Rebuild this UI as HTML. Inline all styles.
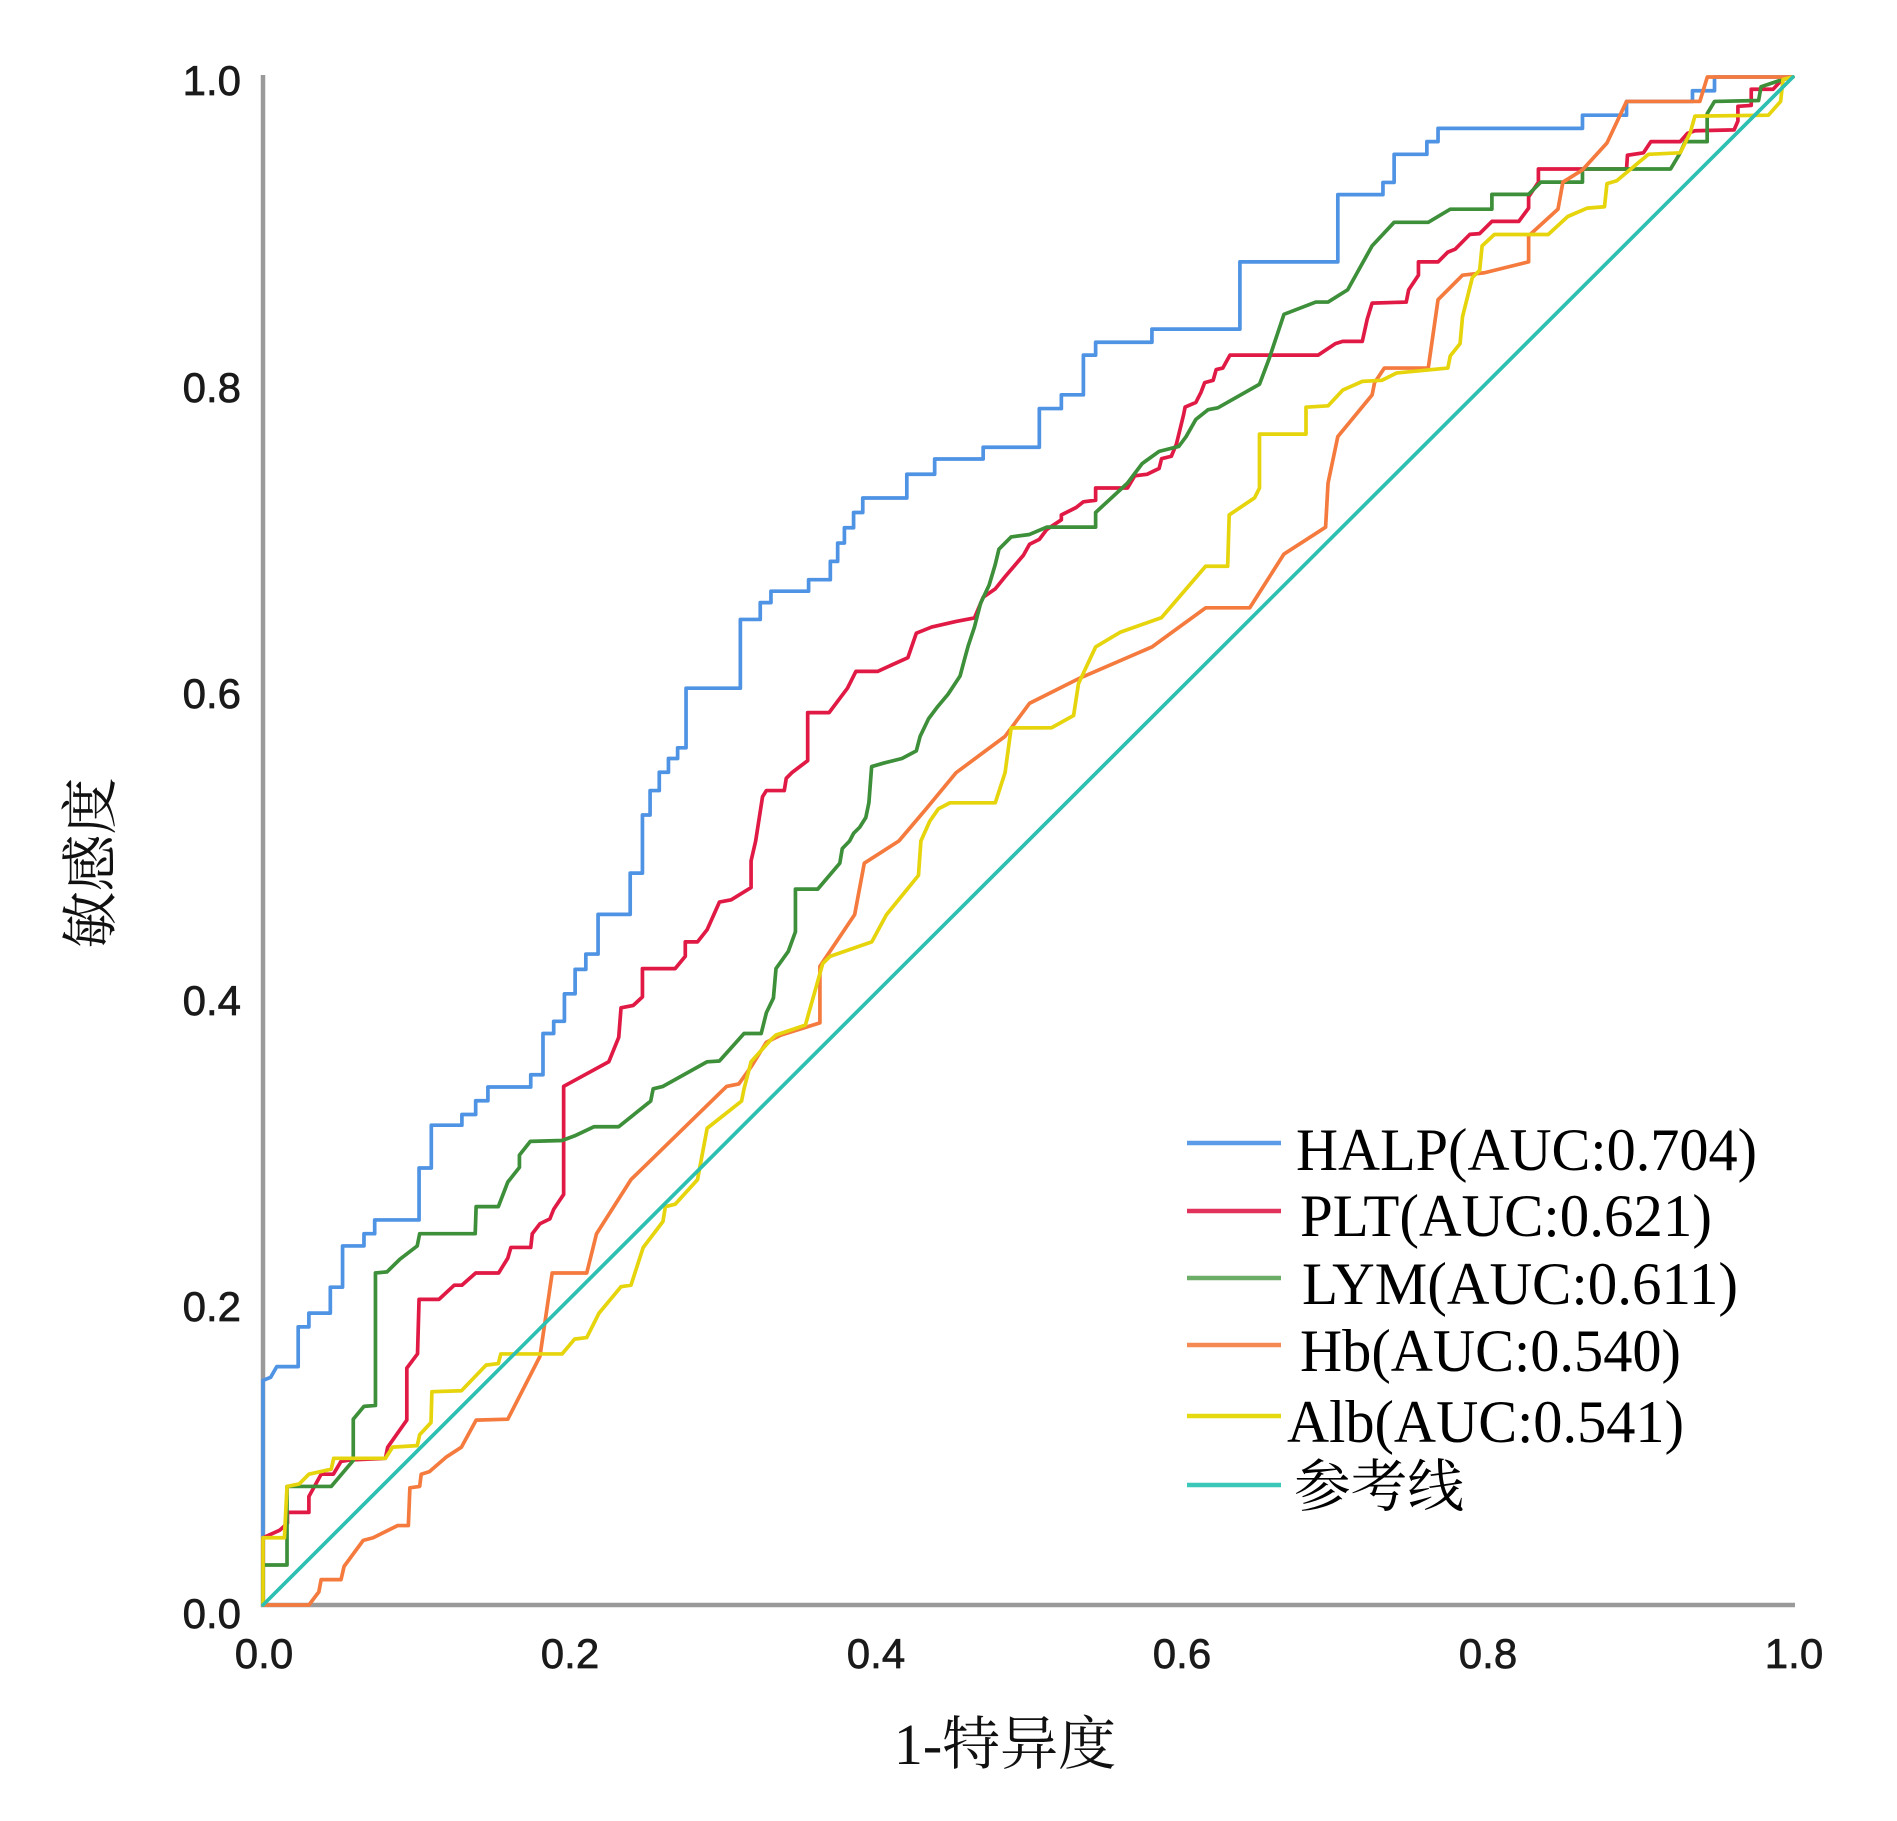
<!DOCTYPE html>
<html>
<head>
<meta charset="utf-8">
<style>
html,body{margin:0;padding:0;background:#fff;}
svg{display:block;}
</style>
</head>
<body>
<svg width="1897" height="1821" viewBox="0 0 1897 1821" xmlns="http://www.w3.org/2000/svg">
<rect width="1897" height="1821" fill="#ffffff"/>

<!-- axes -->
<line x1="263" y1="75" x2="263" y2="1607" stroke="#9a9a9a" stroke-width="4.5"/>
<line x1="261" y1="1605" x2="1795" y2="1605" stroke="#9a9a9a" stroke-width="4.5"/>

<!-- y tick labels -->
<g font-family="'Liberation Sans', sans-serif" font-size="42" fill="#1a1a1a" stroke="#1a1a1a" stroke-width="0.7" text-anchor="end">
<text x="241" y="95">1.0</text>
<text x="241" y="402">0.8</text>
<text x="241" y="708">0.6</text>
<text x="241" y="1015">0.4</text>
<text x="241" y="1321">0.2</text>
<text x="241" y="1628">0.0</text>
</g>
<!-- x tick labels -->
<g font-family="'Liberation Sans', sans-serif" font-size="42" fill="#1a1a1a" stroke="#1a1a1a" stroke-width="0.7" text-anchor="middle">
<text x="264" y="1668">0.0</text>
<text x="570" y="1668">0.2</text>
<text x="876" y="1668">0.4</text>
<text x="1182" y="1668">0.6</text>
<text x="1488" y="1668">0.8</text>
<text x="1794" y="1668">1.0</text>
</g>

<!-- axis titles -->
<text x="0" y="0" transform="translate(86,863) rotate(-90)" font-family="'Noto Serif CJK SC', serif" font-size="57" fill="#111" text-anchor="middle" dominant-baseline="central">敏感度</text>
<text x="1005" y="1764" font-family="'Liberation Serif', 'Noto Serif CJK SC', serif" font-size="58" fill="#111" text-anchor="middle">1-特异度</text>

<!-- curves -->
<g transform="translate(263,1605) scale(1.53,-1.528)" fill="none" stroke-width="3.7" stroke-linejoin="round" stroke-linecap="round">
<polyline vector-effect="non-scaling-stroke" stroke="#4f93e4" points="0,0 0,147 5,149 9,156 23,156 23,182 30,182 30,191 44,191 44,208 52,208 52,235 66,235 66,243 73,243 73,252 102,252 102,286 110,286 110,314 130,314 130,321 139,321 139,330 147,330 147,339 175,339 175,347 183,347 183,374 190,374 190,382 197,382 197,400 204,400 204,416 211,416 211,426 219,426 219,452 240,452 240,479 248,479 248,517 253,517 253,533 259,533 259,545 265,545 265,554 271,554 271,561 276.5,561 276.5,600 312,600 312,645 325,645 325,656 332,656 332,663.5 356.6,663.5 356.6,671 370.8,671 370.8,683 375.6,683 375.6,695 380,695 380,705 386,705 386,715 392,715 392,724.5 420.8,724.5 420.8,740 439,740 439,750 470.7,750 470.7,757.7 507.4,757.7 507.4,783 521.8,783 521.8,792 536.2,792 536.2,818 544.2,818 544.2,826.4 581,826.4 581,835 638.5,835 638.5,879 702.5,879 702.5,923 732,923 732,931 739.3,931 739.3,949.4 760.7,949.4 760.7,957.7 768,957.7 768,966.4 862.4,966.4 862.4,975 891.2,975 891.2,984 934.3,984 934.3,991 948.7,991 948.7,1000 1000,1000"/>
<polyline vector-effect="non-scaling-stroke" stroke="#e01a44" points="0,0 0,44 11,49 16,53.5 16,60.6 30,60.6 30,71 38,85.6 46,85.6 51,94 57.4,95 80,96 81.5,103.3 94,121 94,155 101,164.4 102,200 115,200 125,209.3 130,209.3 139,217.3 154,217.3 160,227 162,234 175,234 176,243 181,249.5 187.5,252.7 190,259 196.5,268.7 196.5,339.4 203.6,343.3 226,355.5 232.5,371.5 234,390.8 242,392.4 248,398 248,416.5 269.4,416.5 276,424.5 276,434 284,434 290.3,442 298.3,460 306,461.5 319,469.5 319,487 322,500 326.5,529 329,533 340.7,533 342,541 346,545 356,552.6 356,584 370,584 382,600 387.5,611 401.7,611 421.5,620 427,636 437,640 453,643.7 465,646 470.7,659.5 478.6,665 485,673 497,687 501,694.2 507.4,697.4 512.2,703.8 521.8,710.2 521.8,713.4 531.4,718.2 536.2,722 544.2,723 544.2,731 565,731 569.8,739 577.8,740 585.7,743.8 587.3,750.2 593.7,751.8 597,759.8 601.7,779 602.7,784 609.7,787 613,793.5 615.5,800 621,801.5 623,808.5 627.3,809.5 632,818 689.7,818 700.9,825.5 705.7,827 718.5,827 721.7,841.5 724.9,852 747.2,852.7 748.8,860.7 755.2,870.3 755.2,879 768,879 774.4,885.4 779.2,887.3 788.8,897 795.2,897.5 803.2,905.5 820.8,905.5 827.2,914.2 827.2,921.6 833.6,931.2 833.6,939.8 891.2,939.8 891.8,948.8 902.3,950.4 907.1,957.7 926.3,957.7 931.1,963.2 936,964.8 961.5,965.4 964,971.2 964,980.8 972.7,981.4 972.7,992 987,992 993.5,999 1000,1000"/>
<polyline vector-effect="non-scaling-stroke" stroke="#3d8f3a" points="0,0 0,26.2 15.7,26.2 15.7,77.6 44.6,77.6 59,94.6 59,121.6 66,130 73.5,130.6 73.5,217.3 81,218 89.5,226.3 100.8,235 102.4,243 138.7,243 139.3,260.7 153.8,260.7 160,276.8 167.6,286.4 167.6,294.4 174.7,303.4 195.5,304 203.6,307 216.4,313 232.5,313 253.4,329.8 255,337.8 261.4,339.4 290.3,355.5 298.3,356 314.4,374 325.6,374 329,387.6 333.6,397.2 335.3,416.5 343.3,427.7 348,440.6 348,468.5 362.6,468.5 377,485.5 378.6,495 383.4,500 386,505 390,509 394,515.4 396,525 397.8,548.7 405.7,551 417.6,554 427,559 429.5,568.5 435,580 441,588 447.7,596 455.6,608 458.8,620 461,628 465,640 469,655.6 474.6,667.5 478.6,681 481,691 489,699 501,700.6 512.2,705.4 544.2,705.4 544.2,715 565,734.2 574.6,747 585.7,755 598.5,758.2 603.3,764.6 609.7,775.9 617.7,782.3 624.1,783.5 651.3,798.9 657.7,815.9 667.3,844.7 688.1,852.7 696.1,852.7 708.9,860.7 724.9,889.5 739.3,904.9 761.6,904.9 776,913.5 803.2,913.5 803.2,923.2 827.2,923.2 835.2,931.2 862.4,931.2 862.4,939.8 920,939.8 926.3,950.4 929.5,957.7 943.9,957.7 943.9,976 948.7,984 977.5,984.6 979.1,993.6 990.3,997.4 1000,1000"/>
<polyline vector-effect="non-scaling-stroke" stroke="#f47a3e" points="0,0 30,0 36.5,8.6 38,16.6 51,16.6 53,25.3 65.5,42.3 72,44 88,52 95,52 96,76.7 102.4,77.6 103.4,85.6 108.8,87.3 120,97 129.7,103.3 139.3,121 160,121.6 181,162.7 189,217.3 211.6,217.3 218,243 240.5,278.4 303,339.4 311,341 319,352.2 329,368.3 338.5,373 364,381 364,418 386.7,451.8 393,485.5 415.6,500 433.4,521 453,544.7 469,556.6 485,568.5 501,590.1 533,606.2 581,627 616.1,652.6 644.9,652.6 667.3,687.8 694.5,705.4 696.1,734.2 702.5,764.7 724.9,791.9 726.5,799.9 732.9,809.5 761.6,809.5 768,854.3 784,870.3 798.4,871.9 827.2,879 827.2,896 846.4,913.5 849.6,931.2 862.4,939.2 878.4,956.8 891.2,984 939.1,984 944,1000 1000,1000"/>
<polyline vector-effect="non-scaling-stroke" stroke="#e6d40c" points="0,0 0,44 14,44 15.7,77.6 23.7,79.2 30,85.6 44.6,88.9 46.2,96 80,96 84.7,103.3 100.8,104.3 102.4,111.4 109.8,119.4 110.4,139.6 129.7,140.2 145.8,157 153.8,158 155.4,164.3 195.5,164.3 203.6,174 211.6,175 219.6,191 234,208.3 240.5,209.3 248.5,234 261.4,251 263,260.7 269.4,262.3 284,278.4 290.3,312 312.8,329.8 314.4,337.8 319,355.5 332,370 335.3,373 354.5,379.5 365.8,419.7 370.6,424.5 397.9,434 407.5,451.8 428.4,477.5 430,500 435.8,513 441.4,521 449,525 478.6,525 485,544.7 489,574 515.4,574.1 529.8,582.1 533,603 544.2,627 560.2,636.6 587.3,646.2 616.1,679.8 630.5,679.8 631.5,713.4 648.1,724.6 651.3,731 651.3,766.3 681.7,766.3 681.7,783.9 696.1,784.8 705.7,795.1 718.5,800.8 731.3,801.5 740.9,806.3 774.4,809.5 776,817.5 782.4,825.5 784,843.1 790.4,868.7 795.2,873.5 796.8,889.5 804.8,896.9 840,896.9 852.8,908.7 865.6,914.2 876.8,915.1 878.4,930.2 884.8,932.1 905.5,949.4 926.3,950.4 932.7,963.2 935.9,974.4 983.9,975 991.9,984 993.5,998.4 1000,1000"/>
<line vector-effect="non-scaling-stroke" x1="0" y1="0" x2="1000" y2="1000" stroke="#2dbfb1"/>
</g>

<!-- legend -->
<g stroke-width="4.5">
<line x1="1187" y1="1143" x2="1281" y2="1143" stroke="#5b9be8"/>
<line x1="1187" y1="1211" x2="1281" y2="1211" stroke="#e0325a"/>
<line x1="1187" y1="1278" x2="1281" y2="1278" stroke="#6cad68"/>
<line x1="1187" y1="1345" x2="1281" y2="1345" stroke="#f58a55"/>
<line x1="1187" y1="1416" x2="1281" y2="1416" stroke="#e5d90f"/>
<line x1="1187" y1="1485" x2="1281" y2="1485" stroke="#3cc8b8"/>
</g>
<g font-family="'Liberation Serif', serif" font-size="60" fill="#000">
<text x="1296" y="1170" textLength="461" lengthAdjust="spacingAndGlyphs">HALP(AUC:0.704)</text>
<text x="1300" y="1236" textLength="412" lengthAdjust="spacingAndGlyphs">PLT(AUC:0.621)</text>
<text x="1302" y="1304" textLength="436" lengthAdjust="spacingAndGlyphs">LYM(AUC:0.611)</text>
<text x="1300" y="1371" textLength="381" lengthAdjust="spacingAndGlyphs">Hb(AUC:0.540)</text>
<text x="1287" y="1442" textLength="397" lengthAdjust="spacingAndGlyphs">Alb(AUC:0.541)</text>
</g>
<text x="1294" y="1506" font-family="'Noto Serif CJK SC', serif" font-size="57" fill="#000" textLength="170" lengthAdjust="spacingAndGlyphs">参考线</text>
</svg>
</body>
</html>
